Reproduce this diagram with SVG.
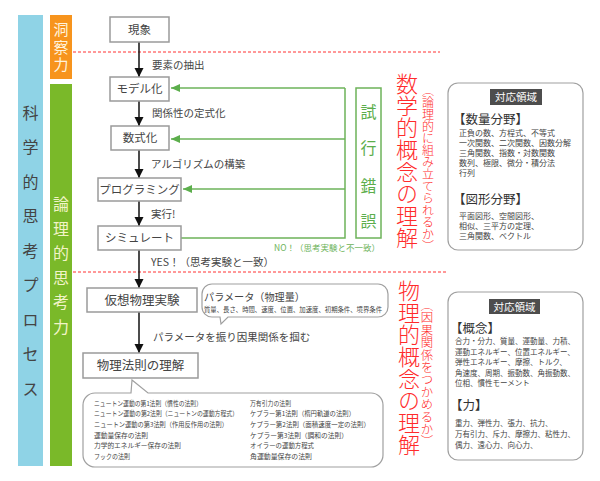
<svg xmlns="http://www.w3.org/2000/svg" width="600" height="481" viewBox="0 0 600 481">
<style>
text{font-family:"Noto Sans CJK JP","Noto Sans",sans-serif;fill:#444}
.box{fill:#fff;stroke:#9a9a9a;stroke-width:1.5}
.bt{font-size:11.5px;text-anchor:middle}
.lb{font-size:10.5px}
.red{fill:#ff2b2b;writing-mode:vertical-rl;font-weight:300}
.grn{stroke:#6db35a;stroke-width:1.5;fill:none}
.gt{fill:#5cae4c;font-size:16px;text-anchor:middle}
.dash{stroke:#ff3030;stroke-width:1;stroke-dasharray:3 2}
.rb{fill:#fff;stroke:#a0a0a0;stroke-width:1.2}
.tag{fill:#4d4d4d}
.tagt{fill:#fff;font-size:10.5px;text-anchor:middle}
.hd{font-size:12.5px;fill:#333}
.s1{font-size:8px}
.s2{font-size:7.5px}
.ls{font-size:6.8px}
.vt{font-size:16px;text-anchor:middle}
</style>
<defs>
<marker id="ab" markerUnits="userSpaceOnUse" markerWidth="10" markerHeight="10" refX="9" refY="5" orient="auto">
<path d="M0,0.5 L9,5 L0,9.5 Z" fill="#111"/>
</marker>
<marker id="ag" markerUnits="userSpaceOnUse" markerWidth="10" markerHeight="10" refX="9" refY="5" orient="auto">
<path d="M0,1 L9,5 L0,9 Z" fill="#5cae4c"/>
</marker>
</defs>

<g id="bar-process">
<rect x="18" y="15" width="25" height="451" fill="#8fd3e6"/>
<g fill="#333">
<text class="vt" x="30.5" y="118.8">科</text>
<text class="vt" x="30.5" y="153.3">学</text>
<text class="vt" x="30.5" y="187.8">的</text>
<text class="vt" x="30.5" y="222.3">思</text>
<text class="vt" x="30.5" y="256.8">考</text>
<text class="vt" x="30.5" y="291.3">プ</text>
<text class="vt" x="30.5" y="325.8">ロ</text>
<text class="vt" x="30.5" y="360.3">セ</text>
<text class="vt" x="30.5" y="394.8">ス</text>
</g>
</g>

<g id="bar-insight">
<rect x="50" y="15" width="22" height="64" fill="#f7941d"/>
<text x="61" y="22" style="font-size:15px;fill:#fff3dc;writing-mode:vertical-rl;letter-spacing:2.5px">洞察力</text>
</g>

<g id="bar-logic">
<rect x="50" y="84" width="22" height="382" fill="#7ab929"/>
<text class="vt" x="61" y="210.3" style="fill:#f2f4c8">論</text>
<text class="vt" x="61" y="234.8" style="fill:#f2f4c8">理</text>
<text class="vt" x="61" y="259.3" style="fill:#f2f4c8">的</text>
<text class="vt" x="61" y="283.8" style="fill:#f2f4c8">思</text>
<text class="vt" x="61" y="308.3" style="fill:#f2f4c8">考</text>
<text class="vt" x="61" y="332.8" style="fill:#f2f4c8">力</text>
</g>

<g id="dividers">
<line class="dash" x1="73" y1="52" x2="440" y2="52"/>
<line class="dash" x1="73" y1="272" x2="447" y2="272"/>
</g>

<g id="connectors">
<line x1="139" y1="42" x2="139" y2="77" stroke="#111" stroke-width="1.5" marker-end="url(#ab)"/>
<line x1="139" y1="101" x2="139" y2="126" stroke="#111" stroke-width="1.5" marker-end="url(#ab)"/>
<line x1="139" y1="150" x2="139" y2="178" stroke="#111" stroke-width="1.5" marker-end="url(#ab)"/>
<line x1="139" y1="201" x2="139" y2="226" stroke="#111" stroke-width="1.5" marker-end="url(#ab)"/>
<line x1="139" y1="250" x2="139" y2="288" stroke="#111" stroke-width="1.5" marker-end="url(#ab)"/>
<line x1="139" y1="312" x2="139" y2="353" stroke="#111" stroke-width="1.5" marker-end="url(#ab)"/>
<line class="grn" x1="345" y1="88" x2="171" y2="88" marker-end="url(#ag)"/>
<line class="grn" x1="345" y1="139" x2="171" y2="139" marker-end="url(#ag)"/>
<line class="grn" x1="345" y1="189" x2="183" y2="189" marker-end="url(#ag)"/>
<polyline class="grn" points="181,238 345,238 345,88"/>
<text class="lb" x="152" y="69">要素の抽出</text>
<text class="lb" x="152" y="117">関係性の定式化</text>
<text class="lb" x="151" y="167.5">アルゴリズムの構築</text>
<text class="lb" x="151" y="218">実行!</text>
<text class="lb" x="151" y="266">YES！（思考実験と一致）</text>
<text x="380" y="251" style="font-size:8.5px;fill:#6db35a;text-anchor:end">NO！（思考実験と不一致）</text>
<text class="lb" x="153" y="341">パラメータを振り因果関係を掴む</text>
</g>

<g id="n-genshou"><rect class="box" x="110" y="17" width="59" height="25"/><text class="bt" x="139.5" y="33.6">現象</text></g>
<g id="n-model"><rect class="box" x="110" y="77" width="59" height="24"/><text class="bt" x="139.5" y="93">モデル化</text></g>
<g id="n-formula"><rect class="box" x="111" y="126" width="58" height="24"/><text class="bt" x="140" y="142">数式化</text></g>
<g id="n-program"><rect class="box" x="98" y="178" width="83" height="23"/><text class="bt" x="139.5" y="193.5">プログラミング</text></g>
<g id="n-simulate"><rect class="box" x="98" y="226" width="83" height="24"/><text class="bt" x="139.5" y="242">シミュレート</text></g>
<g id="n-virtual"><rect class="box" x="87" y="288" width="110" height="24"/><text class="bt" x="142" y="304.5" style="font-size:12.5px">仮想物理実験</text></g>
<g id="n-law"><rect class="box" x="83" y="353" width="115" height="25"/><text class="bt" x="140.5" y="370" style="font-size:12.5px">物理法則の理解</text></g>

<g id="n-trial">
<rect x="356" y="88" width="25" height="150" fill="#fff" stroke="#6db35a" stroke-width="1.5"/>
<text class="gt" x="368.5" y="117.8">試</text>
<text class="gt" x="368.5" y="153.8">行</text>
<text class="gt" x="368.5" y="191.8">錯</text>
<text class="gt" x="368.5" y="227.3">誤</text>
</g>

<g id="n-math-label">
<text class="red" x="407" y="73" style="font-size:22px">数学的概念の理解</text>
<text class="red" x="428" y="84" style="font-size:12px">（論理的に組み立てられるか）</text>
</g>
<g id="n-phys-label">
<text class="red" x="409" y="280" style="font-size:22px">物理的概念の理解</text>
<text class="red" x="427" y="299" style="font-size:12.4px">（因果関係をつかめるか）</text>
</g>

<g id="n-param">
<path class="rb" d="M212,284 H378 A10,10 0 0 1 388,294 V307 A10,10 0 0 1 378,317 H228 L221,324 L220,317 H212 A10,10 0 0 1 202,307 V294 A10,10 0 0 1 212,284 Z"/>
<text x="204" y="300.5" style="font-size:10.5px" textLength="101" lengthAdjust="spacingAndGlyphs">パラメータ（物理量）</text>
<text x="204" y="312.3" style="font-size:6.6px" textLength="178" lengthAdjust="spacingAndGlyphs">質量、長さ、時間、速度、位置、加速度、初期条件、境界条件</text>
</g>

<g id="n-laws-list">
<path class="rb" d="M95,393 H131 L132,380 L148,393 H371 A12,12 0 0 1 383,405 V455 A12,12 0 0 1 371,467 H95 A12,12 0 0 1 83,455 V405 A12,12 0 0 1 95,393 Z"/>
<text class="ls" x="94" y="405.5" textLength="108" lengthAdjust="spacingAndGlyphs">ニュートン運動の第1法則（慣性の法則）</text>
<text class="ls" x="94" y="416" textLength="144" lengthAdjust="spacingAndGlyphs">ニュートン運動の第2法則（ニュートンの運動方程式）</text>
<text class="ls" x="94" y="426.5" textLength="134" lengthAdjust="spacingAndGlyphs">ニュートン運動の第3法則（作用反作用の法則）</text>
<text class="ls" x="94" y="437.5" textLength="54" lengthAdjust="spacingAndGlyphs">運動量保存の法則</text>
<text class="ls" x="94" y="448" textLength="87" lengthAdjust="spacingAndGlyphs">力学的エネルギー保存の法則</text>
<text class="ls" x="94" y="458.5" textLength="36" lengthAdjust="spacingAndGlyphs">フックの法則</text>
<text class="ls" x="250" y="405.5" textLength="41" lengthAdjust="spacingAndGlyphs">万有引力の法則</text>
<text class="ls" x="250" y="416" textLength="105" lengthAdjust="spacingAndGlyphs">ケプラー第1法則（楕円軌道の法則）</text>
<text class="ls" x="250" y="426.5" textLength="120" lengthAdjust="spacingAndGlyphs">ケプラー第2法則（面積速度一定の法則）</text>
<text class="ls" x="250" y="437.5" textLength="98" lengthAdjust="spacingAndGlyphs">ケプラー第3法則（調和の法則）</text>
<text class="ls" x="250" y="448" textLength="64" lengthAdjust="spacingAndGlyphs">オイラーの運動方程式</text>
<text class="ls" x="250" y="458.5" textLength="62" lengthAdjust="spacingAndGlyphs">角運動量保存の法則</text>
</g>

<g id="n-math-fields">
<rect class="rb" x="448" y="83" width="135" height="167" rx="10"/>
<rect class="tag" x="490" y="89" width="52" height="16"/>
<text class="tagt" x="516" y="101">対応領域</text>
<text class="hd" x="453" y="123.5">【数量分野】</text>
<text class="s1" x="459" y="136">正負の数、方程式、不等式</text>
<text class="s1" x="459" y="146">一次関数、二次関数、因数分解</text>
<text class="s1" x="459" y="156">三角関数、指数・対数関数</text>
<text class="s1" x="459" y="166">数列、極限、微分・積分法</text>
<text class="s1" x="459" y="176">行列</text>
<text class="hd" x="453" y="203.5">【図形分野】</text>
<text class="s1" x="459" y="219">平面図形、空間図形、</text>
<text class="s1" x="459" y="229">相似、三平方の定理、</text>
<text class="s1" x="459" y="238.5">三角関数、ベクトル</text>
</g>

<g id="n-phys-fields">
<rect class="rb" x="448" y="292" width="135" height="168" rx="10"/>
<rect class="tag" x="489" y="299" width="51" height="15"/>
<text class="tagt" x="514.5" y="310.5">対応領域</text>
<text class="hd" x="450" y="332.5">【概念】</text>
<text class="s2" x="455" y="344">合力・分力、質量、運動量、力積、</text>
<text class="s2" x="455" y="354.5">運動エネルギー、位置エネルギー、</text>
<text class="s2" x="455" y="365">弾性エネルギー、摩擦、トルク、</text>
<text class="s2" x="455" y="375.5">角速度、周期、振動数、角振動数、</text>
<text class="s2" x="455" y="386">位相、慣性モーメント</text>
<text class="hd" x="450" y="409.5">【力】</text>
<text class="s2" x="455" y="426">重力、弾性力、張力、抗力、</text>
<text class="s2" x="455" y="437">万有引力、斥力、摩擦力、粘性力、</text>
<text class="s2" x="455" y="448">偶力、遠心力、向心力、</text>
</g>
</svg>
